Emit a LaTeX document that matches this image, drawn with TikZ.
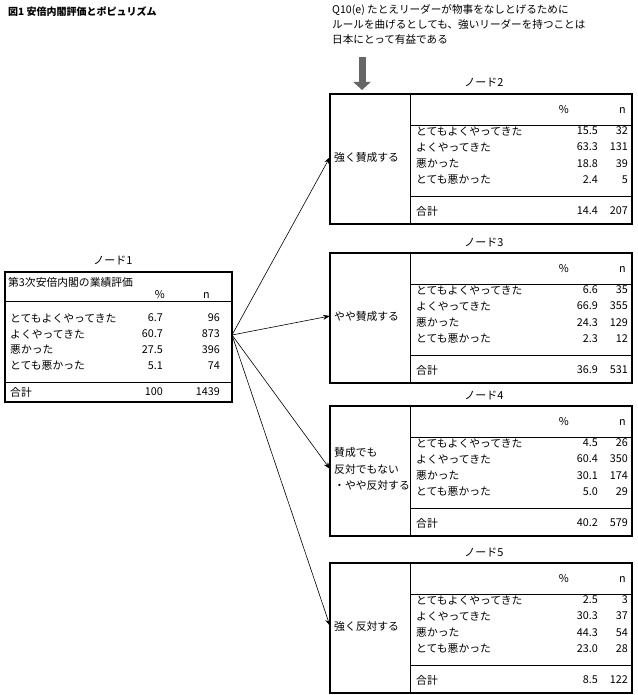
\documentclass[tikz,border=0pt]{standalone}
\usepackage{fontspec}
\setmainfont{Noto Sans CJK JP}
\usepackage{tikz}
\usetikzlibrary{arrows.meta}

\tikzset{
  txt/.style={inner sep=0pt, font=\fontsize{10.8}{12}\selectfont},
  lbl/.style={txt, anchor=west},
  num/.style={txt, anchor=east},
  frame/.style={line width=1.8pt},
  rule/.style={line width=0.8pt},
  link/.style={-{Stealth[length=7pt,width=5pt]}, line width=0.6pt}
}

\begin{document}
\begin{tikzpicture}[x=1pt, y=-1pt]
\useasboundingbox (0,0) rectangle (637,695);

% Title and question
\node[lbl, font=\fontsize{10}{12}\selectfont\bfseries] (title) at (8,12) {図1 安倍内閣評価とポピュリズム};
\node[txt, anchor=north west, align=left, font=\fontsize{10.6}{15}\selectfont] (question) at (332,4)
  {Q10(e) たとえリーダーが物事をなしとげるために\\ルールを曲げるとしても、強いリーダーを持つことは\\日本にとって有益である};
\coordinate (qtop) at (362,57);
\coordinate (qbot) at (362,90);
\draw[-{Triangle[length=8pt,width=17pt]}, line width=7pt, gray!80!black] (qtop) -- (qbot);

%
% Node 1
%
\node[txt, font=\fontsize{11}{12}\selectfont] (t1) at (113,260) {ノード1};
\draw[frame] (5,272) rectangle (232,402);
\draw[rule] (5,301) -- (232,301);
\draw[rule] (5,382) -- (232,382);
\node[lbl] (h1) at (8,282) {第3次安倍内閣の業績評価};
\node[num] (p1) at (165,295) {\%};
\node[num] (n1) at (210,295) {n};
\node[lbl] (r1a) at (10,318) {とてもよくやってきた};
\node[num] at (163,318) {6.7};  \node[num] at (220,318) {96};
\node[lbl] (r1b) at (10,334) {よくやってきた};
\node[num] at (163,334) {60.7}; \node[num] at (220,334) {873};
\node[lbl] (r1c) at (10,350) {悪かった};
\node[num] at (163,350) {27.5}; \node[num] at (220,350) {396};
\node[lbl] (r1d) at (10,366) {とても悪かった};
\node[num] at (163,366) {5.1};  \node[num] at (220,366) {74};
\node[lbl] (r1t) at (10,392) {合計};
\node[num] at (163,392) {100};  \node[num] at (220,392) {1439};
\coordinate (out1) at (232,335);

%
% Nodes 2-5
%
\foreach \T/\k/\lab/\pa/\na/\pb/\nb/\pc/\nc/\pd/\nd/\pt/\nt in {
  94/2/{強く賛成する}/15.5/32/63.3/131/18.8/39/2.4/5/14.4/207,
  253/3/{やや賛成する}/6.6/35/66.9/355/24.3/129/2.3/12/36.9/531,
  406/4/{賛成でも\\反対でもない\\・やや反対する}/4.5/26/60.4/350/30.1/174/5.0/29/40.2/579,
  563/5/{強く反対する}/2.5/3/30.3/37/44.3/54/23.0/28/8.5/122}{
  \node[txt, font=\fontsize{11}{12}\selectfont] (t\k) at (484,\T-11) {ノード\k};
  \draw[frame] (330,\T) rectangle (632,\T+130);
  \draw[rule] (410,\T) -- (410,\T+130);
  \draw[rule] (410,\T+31) -- (632,\T+31);
  \draw[rule] (410,\T+102) -- (632,\T+102);
  \node[lbl, align=left, font=\fontsize{10.8}{16.5}\selectfont] (lab\k) at (334,\T+63) {\lab};
  \node[num] (p\k) at (569,\T+16) {\%};
  \node[num] (n\k) at (626,\T+16) {n};
  \node[lbl] at (416,\T+37) {とてもよくやってきた};
  \node[num] at (598,\T+37) {\pa}; \node[num] at (628,\T+37) {\na};
  \node[lbl] at (416,\T+53) {よくやってきた};
  \node[num] at (598,\T+53) {\pb}; \node[num] at (628,\T+53) {\nb};
  \node[lbl] at (416,\T+70) {悪かった};
  \node[num] at (598,\T+70) {\pc}; \node[num] at (628,\T+70) {\nc};
  \node[lbl] at (416,\T+86) {とても悪かった};
  \node[num] at (598,\T+86) {\pd}; \node[num] at (628,\T+86) {\nd};
  \node[lbl] at (416,\T+117) {合計};
  \node[num] at (598,\T+117) {\pt}; \node[num] at (628,\T+117) {\nt};
  \coordinate (in\k) at (330,\T+63);
  \draw[link] (out1) -- (in\k);
}

\end{tikzpicture}
\end{document}
